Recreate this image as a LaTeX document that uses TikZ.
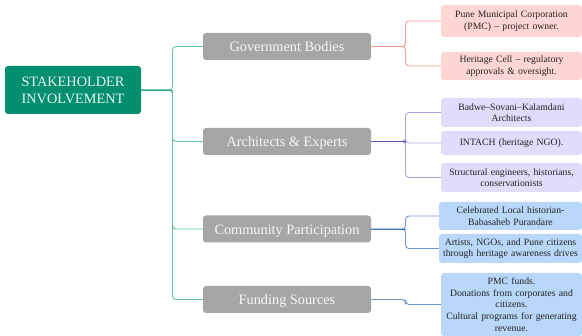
\documentclass[tikz,border=0pt]{standalone}
\usepackage{fontspec}
\setmainfont{Liberation Serif}
\definecolor{rootc}{HTML}{028F6F}
\definecolor{branchc}{HTML}{A6A6A6}
\definecolor{redl}{HTML}{FFD6D4}
\definecolor{purl}{HTML}{E1DCFB}
\definecolor{blul}{HTML}{B9D7FA}
\definecolor{greenw}{HTML}{62C1A8}
\definecolor{redw}{HTML}{F49A92}
\definecolor{purw}{HTML}{A9A6E0}
\definecolor{purd}{HTML}{5E58B8}
\definecolor{bluw}{HTML}{7098CC}
\definecolor{blud}{HTML}{4A78B8}
\definecolor{txt}{HTML}{222222}
\tikzset{
  rootbox/.style={fill=rootc,rounded corners=3pt,inner sep=0pt,text=white!92!rootc,align=center,font=\fontsize{14.3}{16.8}\selectfont,minimum width=136pt,minimum height=48pt},
  branchbox/.style={fill=branchc,rounded corners=3pt,inner sep=0pt,text=white!92!branchc,align=center,font=\fontsize{14.3}{16}\selectfont,minimum width=168pt,minimum height=27pt,text height=10.5pt,text depth=0pt},
  leafbox/.style={rounded corners=3pt,inner sep=0pt,text=txt,align=center,font=\fontsize{9.7}{11.6}\selectfont,text width=#1,minimum width=#1},
  leafbox/.default=141pt,
  wire/.style={line width=0.9pt,rounded corners=3.5pt},
}
\begin{document}
\begin{tikzpicture}[x=1pt,y=-1pt]
\useasboundingbox (0,0) rectangle (582,336);
\node[rootbox] (root) at (73,90) {STAKEHOLDER\\INVOLVEMENT};
\node[branchbox] (gov) at (287,46.5) {Government Bodies};
\node[branchbox] (arch) at (287,141.5) {Architects \& Experts};
\node[branchbox] (comm) at (287,229) {Community Participation};
\node[branchbox] (fund) at (287,299.5) {Funding Sources};
\node[leafbox,fill=redl,minimum height=32pt] (l1) at (511.5,21) {Pune Municipal Corporation\\(PMC) – project owner.};
\node[leafbox,fill=redl,minimum height=28pt] (l2) at (511.5,66) {Heritage Cell – regulatory\\approvals \& oversight.};
\node[leafbox,fill=purl,minimum height=29pt] (l3) at (511.5,112.5) {Badwe–Sovani–Kalamdani\\Architects};
\node[leafbox,fill=purl,minimum height=24pt] (l4) at (511.5,143) {INTACH (heritage NGO).};
\node[leafbox,fill=purl,minimum height=29pt] (l5) at (511.5,177.5) {Structural engineers, historians,\\conservationists};
\node[leafbox=143pt,fill=blul,minimum height=28pt] (l6) at (510.5,216) {Celebrated Local historian-\\Babasaheb Purandare};
\node[leafbox=143pt,fill=blul,minimum height=29pt] (l7) at (510.5,248.5) {Artists, NGOs, and Pune citizens\\through heritage awareness drives};
\node[leafbox,fill=blul,minimum height=63pt] (l8) at (511.5,304.5) {PMC funds.\\Donations from corporates and\\citizens.\\Cultural programs for generating\\revenue.};
\coordinate (f0) at (172.5,90);
\coordinate (f1) at (405.5,46.5);
\coordinate (f2) at (405.5,141.5);
\coordinate (f3) at (405.5,229);
\coordinate (f4) at (405.5,299.5);
\foreach \b in {gov,arch,comm,fund}{
  \draw[wire,greenw] (root.east) -- (f0) |- (\b.west);
}
\draw[line width=0.9pt,rootc!55!greenw] (root.east) -- (f0);
\foreach \l in {l1,l2}{
  \draw[wire,redw] (gov.east) -- (f1) |- (\l.west);
}
\foreach \l in {l3,l4,l5}{
  \draw[wire,purw] (arch.east) -- (f2) |- (\l.west);
}
\draw[line width=0.9pt,purd] (arch.east) -- (f2);
\foreach \l in {l6,l7}{
  \draw[wire,bluw] (comm.east) -- (f3) |- (\l.west);
}
\draw[line width=0.9pt,blud] (comm.east) -- (f3);
\draw[wire,bluw] (fund.east) -- (f4) |- (l8.west);
\end{tikzpicture}
\end{document}
